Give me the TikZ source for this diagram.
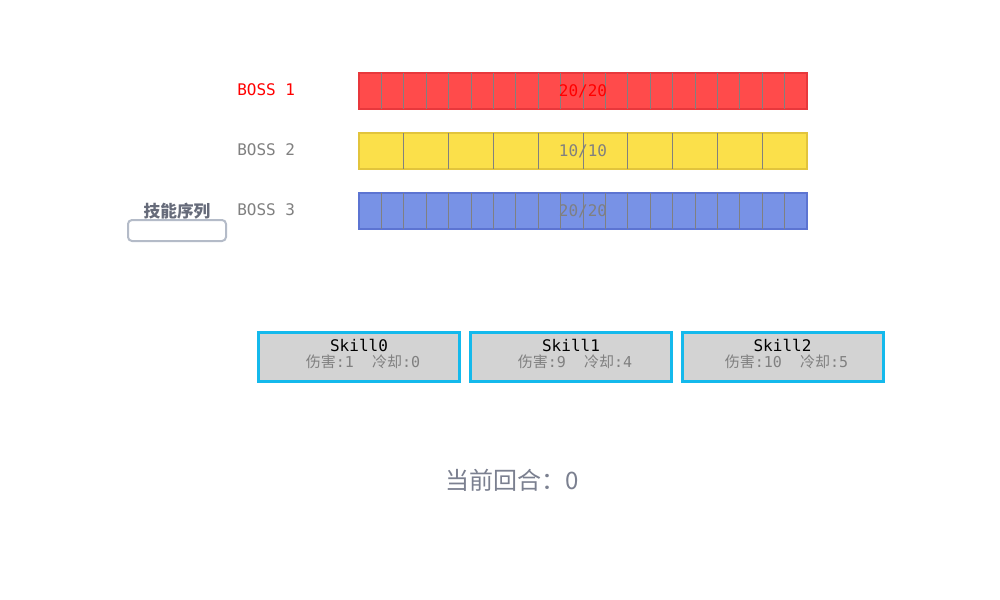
\documentclass[tikz,border=0pt]{standalone}
\usepackage{fontspec}
\setmainfont{DejaVu Sans Mono}
\newfontfamily\cjk{Noto Sans CJK SC}
\usetikzlibrary{positioning}
\definecolor{hpred}{HTML}{FF4B4B}
\definecolor{hpredline}{HTML}{E8383C}
\definecolor{hpyellow}{HTML}{FBE04A}
\definecolor{hpyellowline}{HTML}{E2C43C}
\definecolor{hpblue}{HTML}{7892E6}
\definecolor{hpblueline}{HTML}{5C74D2}
\definecolor{skillcyan}{HTML}{14B9EC}
\definecolor{skillgray}{HTML}{D3D3D3}
\definecolor{txtgray}{HTML}{808080}
\definecolor{seqgray}{HTML}{666B7A}
\definecolor{seqline}{HTML}{B4BBC8}
\definecolor{roundgray}{HTML}{7B8090}
\tikzset{
    hpbar/.style={rectangle,minimum width=336pt,minimum height=27pt,line width=1.5pt,outer sep=0,inner sep=0},
    cellline/.style={draw=txtgray,line width=0.75pt},
    bosslabel/.style={anchor=west,inner sep=0,font=\fontsize{12}{14}\selectfont},
    hptext/.style={inner sep=0,font=\fontsize{12}{14}\selectfont},
    skillbox/.style={rectangle,draw=skillcyan,fill=skillgray,line width=2.25pt,minimum width=150.75pt,minimum height=36.75pt,inner sep=0},
    skillname/.style={inner sep=0,font=\fontsize{12}{14}\selectfont},
    skillstat/.style={inner sep=0,text=txtgray,font=\fontsize{11.25}{13}\selectfont}
}
\begin{document}
\begin{tikzpicture}[x=0.75pt,y=-0.75pt]
    \useasboundingbox[fill=white] (0,0) rectangle (1000,600);
    \node[hpbar,fill=hpred,draw=hpredline] (b1) at (583,91) {};
    \node[hpbar,fill=hpyellow,draw=hpyellowline] (b2) at (583,151) {};
    \node[hpbar,fill=hpblue,draw=hpblueline] (b3) at (583,211) {};
    \foreach \i in {1,...,19}{
        \draw[cellline] ([xshift=\i*16.8pt]b1.north west) -- ([xshift=\i*16.8pt]b1.south west);
        \draw[cellline] ([xshift=\i*16.8pt]b3.north west) -- ([xshift=\i*16.8pt]b3.south west);
    }
    \foreach \i in {1,...,9}
        \draw[cellline] ([xshift=\i*33.6pt]b2.north west) -- ([xshift=\i*33.6pt]b2.south west);
    \node[hptext,text=red] (h1) at (b1.center) {20/20};
    \node[hptext,text=txtgray] (h2) at (b2.center) {10/10};
    \node[hptext,text=txtgray] (h3) at (b3.center) {20/20};
    \node[bosslabel,text=red] (l1) at (237,90) {BOSS 1};
    \node[bosslabel,text=txtgray] (l2) at (237,150) {BOSS 2};
    \node[bosslabel,text=txtgray] (l3) at (237,210) {BOSS 3};
    \node[rectangle,rounded corners=3pt,draw=seqline,line width=1.5pt,minimum width=73.5pt,minimum height=15.75pt] (seq) at (177,230.5) {};
    \node[inner sep=0,text=seqgray,font=\cjk\bfseries\fontsize{12.5}{14}\selectfont] (seqt) at (177,211) {技能序列};
    \node[skillbox] (s0) at (359,357) {};
    \node[skillbox] (s1) at (571,357) {};
    \node[skillbox] (s2) at (782.5,357) {};
    \node[skillname] at (359,345) {Skill0};
    \node[skillstat] at (363,362) {{\cjk 伤害}:1\ \ {\cjk 冷却}:0};
    \node[skillname] at (571,345) {Skill1};
    \node[skillstat] at (575,362) {{\cjk 伤害}:9\ \ {\cjk 冷却}:4};
    \node[skillname] at (782.5,345) {Skill2};
    \node[skillstat] at (786.5,362) {{\cjk 伤害}:10\ \ {\cjk 冷却}:5};
    \node[inner sep=0,text=roundgray,font=\cjk\fontsize{18}{20}\selectfont] (round) at (512,480) {当前回合：0};
\end{tikzpicture}
\end{document}
